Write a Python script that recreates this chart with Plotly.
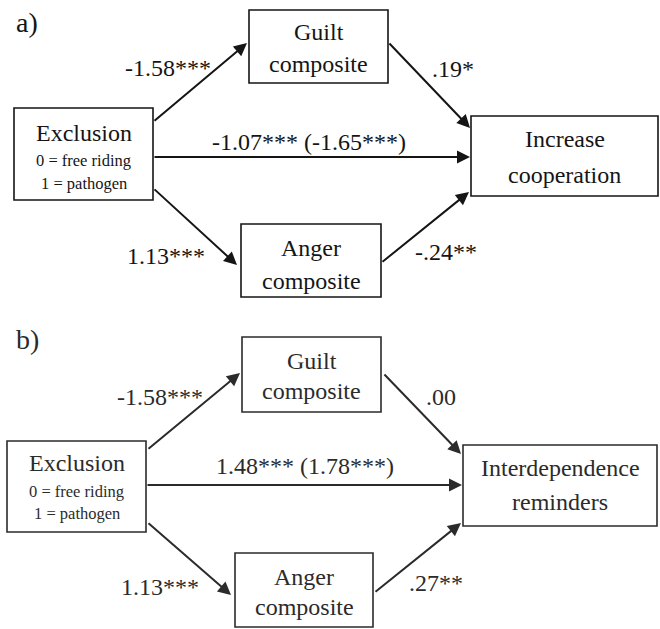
import plotly.graph_objects as go

# ---- data (text content of the path diagram) ----
panel_labels = ["a)", "b)"]
predictor_title = "Exclusion"
predictor_codes = ["0 = free riding", "1 = pathogen"]
mediators = ["Guilt<br>composite", "Anger<br>composite"]
outcomes = ["Increase<br>cooperation", "Interdependence<br>reminders"]
# coefficients: [to guilt, to anger, guilt->outcome, anger->outcome, direct (total)]
coef_a = ["-1.58***", "1.13***", ".19*", "-.24**", "-1.07*** (-1.65***)"]
coef_b = ["-1.58***", "1.13***", ".00", ".27**", "1.48*** (1.78***)"]

# ---- layout geometry (pixels, y downwards) ----
W, H = 660, 629
FONT = "Liberation Serif"

panels = [
    dict(color="#151515", label_xy=(27, 22),
         excl=(14, 108, 153, 200), guilt=(249, 10, 388, 83), anger=(241, 224, 381, 297),
         out=(471, 116, 658, 196), outcome=outcomes[0], coefs=coef_a,
         excl_text_y=(133, 160, 183), guilt_y=(32, 64), anger_y=(248, 281), out_y=(139, 175),
         arrows=[((153, 122), (247, 43)), ((153, 188), (237, 265)),
                 ((388, 42), (470, 128)), ((381, 263), (469, 192)),
                 ((153, 157), (470, 157))],
         coef_xy=[(168, 68), (166, 256), (453, 69), (446, 252), (309, 142)]),
    dict(color="#2b2b2b", label_xy=(27, 339),
         excl=(7, 441, 146, 532), guilt=(242, 337, 381, 412), anger=(235, 553, 373, 627),
         out=(463, 445, 657, 526), outcome=outcomes[1], coefs=coef_b,
         excl_text_y=(463, 491, 513), guilt_y=(361, 391), anger_y=(577, 607), out_y=(468, 502),
         arrows=[((147, 450), (240, 373)), ((147, 522), (231, 595)),
                 ((383, 373), (461, 454)), ((374, 593), (461, 523)),
                 ((146, 485), (462, 485))],
         coef_xy=[(160, 397), (160, 587), (441, 397), (436, 583), (305, 466)]),
]

fig = go.Figure()
shapes = []
annotations = []


def text(x, y, s, size, color):
    annotations.append(dict(x=x, y=y, xref="x", yref="y", text=s, showarrow=False,
                            font=dict(family=FONT, size=size, color=color),
                            xanchor="center", yanchor="middle", align="center"))


for i, p in enumerate(panels):
    c = p["color"]
    text(p["label_xy"][0], p["label_xy"][1], panel_labels[i], 28, c)
    for key in ["excl", "guilt", "anger", "out"]:
        x0, y0, x1, y1 = p[key]
        shapes.append(dict(type="rect", xref="x", yref="y", x0=x0, y0=y0, x1=x1, y1=y1,
                           line=dict(color=c, width=1.6), fillcolor="rgba(0,0,0,0)"))
    # Exclusion box text
    ex = (p["excl"][0] + p["excl"][2]) / 2
    text(ex, p["excl_text_y"][0], predictor_title, 24, c)
    text(ex, p["excl_text_y"][1], predictor_codes[0], 16.5, c)
    text(ex, p["excl_text_y"][2], predictor_codes[1], 16.5, c)
    # mediators and outcome (two lines each)
    for key, ys, s in [("guilt", p["guilt_y"], mediators[0]),
                       ("anger", p["anger_y"], mediators[1]),
                       ("out", p["out_y"], p["outcome"])]:
        cx = (p[key][0] + p[key][2]) / 2
        lines = s.split("<br>")
        for ln, yy in zip(lines, ys):
            text(cx, yy, ln, 24, c)
    # arrows
    for (tail, head) in p["arrows"]:
        annotations.append(dict(x=head[0], y=head[1], ax=tail[0], ay=tail[1],
                                xref="x", yref="y", axref="x", ayref="y", text="",
                                showarrow=True, arrowhead=2, arrowsize=1.3,
                                arrowwidth=2, arrowcolor=c, standoff=0, startstandoff=0))
    # coefficients
    for s, (x, y) in zip(p["coefs"], p["coef_xy"]):
        text(x, y, s, 24, c)

fig.update_layout(
    width=W, height=H,
    margin=dict(l=0, r=0, t=0, b=0),
    paper_bgcolor="white", plot_bgcolor="white",
    xaxis=dict(range=[0, W], visible=False, fixedrange=True),
    yaxis=dict(range=[H, 0], visible=False, fixedrange=True),
    shapes=shapes, annotations=annotations, showlegend=False,
)

fig.write_html("out.html", config={"displayModeBar": False},
               post_script="document.body.style.margin='0';document.body.style.overflow='hidden';")
